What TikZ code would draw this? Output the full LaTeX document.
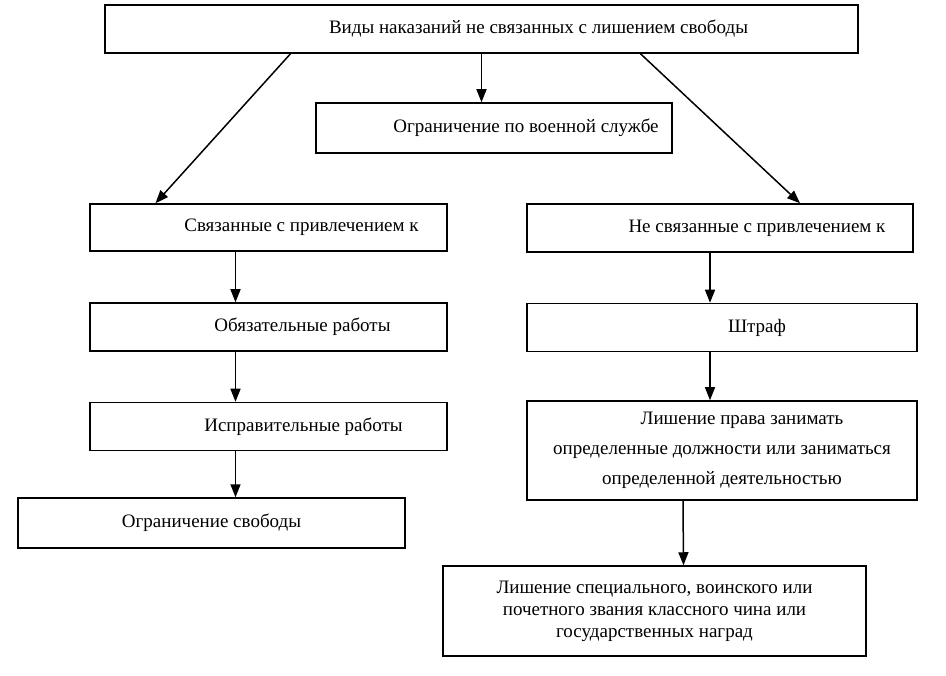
\documentclass[tikz,border=0pt]{standalone}
\usepackage{fontspec}
\setmainfont{Liberation Serif}
\usetikzlibrary{positioning}
\usetikzlibrary{calc}
\usetikzlibrary{arrows.meta}

\tikzset{
	box/.style={draw, minimum height=48pt},
	link/.style={-{Triangle[length=13pt,width=10pt]}}
}

\begin{document}
\begin{tikzpicture}[x=1pt, y=-1pt, line width=1.5pt,
	font=\fontsize{19}{22}\selectfont]

\useasboundingbox (0,0) rectangle (946,676);

\node[
	box,
	minimum width=753pt
] (kinds) at (481.5,29) {\hspace*{114pt}Виды наказаний не связанных с лишением свободы};

\node[
	box,
	minimum width=356pt,
	minimum height=50pt
] (military) at (494,128) {\hspace*{64pt}Ограничение по военной службе};

\node[
	box,
	minimum width=357pt,
	minimum height=47pt
] (linked) at (268.5,227.5) {\hspace*{66pt}Связанные с привлечением к};

\node[
	box,
	minimum width=386pt
] (notLinked) at (720,228) {\hspace*{74pt}Не связанные с привлечением к};

\node[
	box,
	minimum width=357pt,
	below=50.5pt of linked
] (compulsory) {\hspace*{68pt}Обязательные работы};

\node[
	box,
	minimum width=390pt,
	below=50pt of notLinked
] (fine) at ([xshift=2pt]notLinked.south) {\hspace*{70pt}Штраф};

\node[
	box,
	minimum width=357pt,
	below=50pt of compulsory
] (correctional) {\hspace*{70pt}Исправительные работы};

\node[
	box,
	minimum width=390pt,
	minimum height=99pt,
	align=center,
	font=\fontsize{19}{30}\selectfont,
	below=48pt of fine
] (deprivation) {\hspace*{40pt}Лишение права занимать\\
	определенные должности или заниматься\\
	определенной деятельностью};

\node[
	box,
	minimum width=387pt,
	minimum height=50pt
] (restriction) at (211.5,523) {Ограничение свободы};

\node[
	box,
	minimum width=423pt,
	minimum height=90pt,
	align=center
] (titles) at (654.5,611) {Лишение специального, воинского или\\
	почетного звания классного чина или\\
	государственных наград};

% ---

\draw[link] (kinds.south) -- ([xshift=-12.5pt]military.north);

\draw[link] ([xshift=-191pt]kinds.south) -- ([xshift=-113pt]linked.north);

\draw[link] ([xshift=159pt]kinds.south) -- ([xshift=80pt]notLinked.north);

\draw[link] ([xshift=-33pt]linked.south) -- ([xshift=-33pt]compulsory.north);

\draw[link] ([xshift=-33pt]compulsory.south) -- ([xshift=-33pt]correctional.north);

\draw[link] ([xshift=-33pt]correctional.south) -- ([xshift=24pt]restriction.north);

\draw[link] ([xshift=-10pt]notLinked.south) -- ([xshift=-12pt]fine.north);

\draw[link] ([xshift=-12pt]fine.south) -- ([xshift=-12pt]deprivation.north);

\draw[link] ([xshift=-39pt]deprivation.south) -- ([xshift=29pt]titles.north);

\end{tikzpicture}
\end{document}
